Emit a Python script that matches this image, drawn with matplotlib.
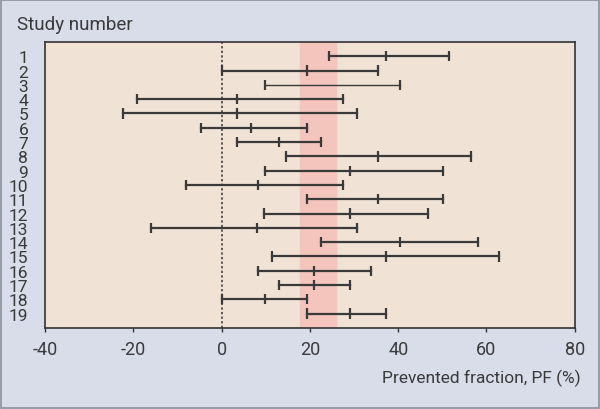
import numpy as np
import matplotlib.pyplot as plt
from matplotlib.patches import Rectangle

plt.rcParams['font.family'] = ['Roboto', 'DejaVu Sans']
plt.rcParams['axes.unicode_minus'] = False

#---------------data-------------------------------------------------------------------
studies = list(range(1, 20))
pf_low = [24.3, 0.0, 9.9, -19.1, -22.4, -4.7, 3.4, 14.6, 9.9, -8.0,
          19.3, 9.7, -15.9, 22.6, 11.4, 8.2, 13.0, 0.0, 19.3]
pf_mid = [37.2, 19.3, np.nan, 3.4, 3.4, 6.6, 13.0, 35.5, 29.0, 8.2,
          35.5, 29.0, 8.1, 40.3, 37.2, 21.0, 21.0, 9.9, 29.0]
pf_high = [51.6, 35.5, 40.3, 27.4, 30.7, 19.3, 22.6, 56.5, 50.1, 27.4,
           50.1, 46.8, 30.7, 58.0, 62.9, 33.9, 29.0, 19.3, 37.2]
pooled_low = 17.7
pooled_high = 26.0
xticks = [-40, -20, 0, 20, 40, 60, 80]

#---------------figure-----------------------------------------------------------------
fig = plt.figure(figsize=(6, 4.1), dpi=100, facecolor='#d9dce9')
fig.patches.append(Rectangle((0.002, 0.002), 0.996, 0.996, transform=fig.transFigure,
                             facecolor='none', edgecolor='#8c909c', linewidth=1.2))
ax = fig.add_axes([0.075, 0.198, 0.883, 0.697])
ax.set_facecolor('#f0e2d4')

ax.axvspan(pooled_low, pooled_high, color='#f3c5bd', zorder=1)
ax.axvline(0, color='#333333', linestyle=(0, (1.5, 1.5)), linewidth=1.1, zorder=2)

linecol = '#3a3a3a'
cap = 0.36
for s, lo, mi, hi in zip(studies, pf_low, pf_mid, pf_high):
    lw = 1.0 if s == 3 else 1.6
    ax.plot([lo, hi], [s, s], color=linecol, linewidth=lw, zorder=3)
    ticks = [lo, hi] if np.isnan(mi) else [lo, mi, hi]
    ax.vlines(ticks, s - cap, s + cap, color=linecol, linewidth=1.6, zorder=3)

ax.set_xlim(-40, 80)
ax.set_ylim(20, 0)
ax.set_xticks(xticks)
ax.set_xticklabels([str(t) for t in xticks])
ax.set_yticks(studies)
ax.set_yticklabels([str(s) for s in studies])
ax.tick_params(axis='x', direction='out', length=3, width=1, colors='#333333',
               labelsize=13, labelcolor='#3a3a3a', pad=6)
ax.tick_params(axis='y', length=0, labelsize=12.5, labelcolor='#3a3a3a', pad=12)
for sp in ax.spines.values():
    sp.set_color('#333333')
    sp.set_linewidth(1.2)

fig.text(0.028, 0.927, 'Study number', fontsize=13.5, color='#3a3a3a', va='baseline')
fig.text(0.967, 0.077, 'Prevented fraction, PF (%)', fontsize=12.5, color='#3a3a3a',
         ha='right', va='center')

plt.savefig('out.png', dpi=100, facecolor=fig.get_facecolor())
